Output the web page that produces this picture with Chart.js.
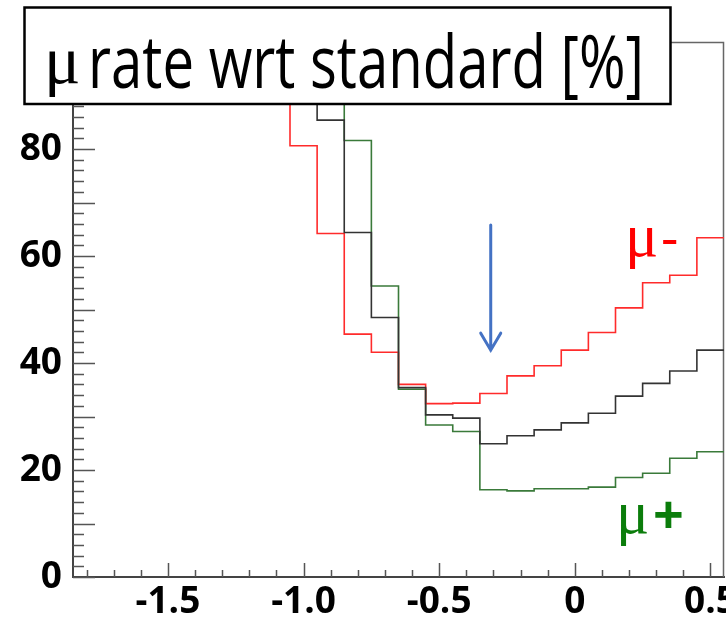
<!DOCTYPE html>
<html>
<head>
<meta charset="utf-8">
<script src="https://cdn.jsdelivr.net/npm/chart.js@4.4.0/dist/chart.umd.min.js"></script>
<style>
  html, body { margin: 0; padding: 0; background: #fff; }
</style>
</head>
<body>
<canvas id="chart" width="726" height="618"></canvas>
<script>
// bin edges of the histograms, the last edge closes the last bin
var binEdges = [-1.15, -1.05, -0.95, -0.85, -0.75, -0.65, -0.55, -0.45, -0.35,
                -0.25, -0.15, -0.05, 0.05, 0.15, 0.25, 0.35, 0.45, 0.55];
// bin contents (rate wrt standard, %)
var muMinus = [96, 80.6, 64.2, 45.4, 42.0, 36.0, 32.4, 32.5, 34.3, 37.6, 39.5, 42.4, 45.7, 50.3, 55.0, 56.4, 63.4];
var muAll   = [98, 95, 85.4, 64.4, 48.5, 35.4, 30.3, 29.7, 24.9, 26.4, 27.5, 28.8, 30.6, 33.8, 36.2, 38.5, 42.4];
var muPlus  = [99, 97, 95, 81.6, 54.4, 35.1, 28.4, 27.2, 16.3, 16.1, 16.5, 16.5, 16.8, 18.6, 19.4, 22.2, 23.4];

var xTickLabels = [-1.5, -1.0, -0.5, 0, 0.5];
var yTickLabels = [0, 20, 40, 60, 80];

// arrow marking the cut (x, from y, to y)
var arrowX = -0.31;
var arrowTop = 65.8;
var arrowTip = 42.4;

function histo(vals, color) {
    // each point holds the content of the bin starting at it,
    // the closing edge repeats the last bin
    var pts = binEdges.map(function (e, i) {
        return { x: e, y: vals[Math.min(i, vals.length - 1)] };
    });
    return {
        data: pts,
        borderColor: color,
        borderWidth: 1.6,
        stepped: 'before',
        pointRadius: 0,
        fill: false
    };
}

var frame = {
    id: 'frame',
    beforeDatasetsDraw: function (chart) {
        var c = chart.ctx, a = chart.chartArea;
        var xs = chart.scales.x, ys = chart.scales.y;
        c.save();
        c.strokeStyle = '#555';
        c.lineWidth = 1.5;
        c.beginPath();
        // y ticks, every 2, longer every 10
        for (var v = 0; v <= 100; v += 2) {
            var py = Math.round(ys.getPixelForValue(v)) + 0.5;
            var len = (v % 10 === 0) ? 22 : 11;
            c.moveTo(a.left, py);
            c.lineTo(a.left + len, py);
        }
        // x ticks, every 0.1, longer every 0.5
        for (var k = -18; k <= 5; k++) {
            var px = Math.round(xs.getPixelForValue(k / 10)) + 0.5;
            var l = (k % 5 === 0) ? 14 : 7;
            c.moveTo(px, a.bottom);
            c.lineTo(px, a.bottom - l);
        }
        c.stroke();
        // top and right frame
        c.strokeStyle = '#666';
        c.beginPath();
        c.moveTo(a.left, a.top + 0.5);
        c.lineTo(a.right - 0.5, a.top + 0.5);
        c.lineTo(a.right - 0.5, a.bottom);
        c.stroke();
        c.restore();
    },
    afterDraw: function (chart) {
        var c = chart.ctx;
        var xs = chart.scales.x, ys = chart.scales.y;
        c.save();
        // arrow
        var ax = xs.getPixelForValue(arrowX);
        var y0 = ys.getPixelForValue(arrowTop), y1 = ys.getPixelForValue(arrowTip);
        c.strokeStyle = '#4472c4';
        c.lineWidth = 3;
        c.lineCap = 'round';
        c.beginPath();
        c.moveTo(ax, y0);
        c.lineTo(ax, y1);
        c.moveTo(ax - 10, y1 - 17);
        c.lineTo(ax, y1);
        c.lineTo(ax + 10, y1 - 17);
        c.stroke();

        // mu labels
        c.textBaseline = 'alphabetic';
        c.fillStyle = '#ff0000';
        c.font = '62px "Liberation Serif"';
        c.fillText('\u03bc', 625, 256);
        c.font = '54px "Open Sans"';
        c.fillText('-', 661, 257);
        c.fillStyle = '#0b7d0b';
        c.font = '62px "Liberation Serif"';
        c.fillText('\u03bc', 616, 533);
        c.font = 'bold 54px "Open Sans"';
        c.textAlign = 'center';
        c.textBaseline = 'middle';
        c.fillText('+', 668.5, 519);

        // title box
        c.fillStyle = '#fff';
        c.fillRect(24, 7, 647, 97);
        c.strokeStyle = '#000';
        c.lineWidth = 2.5;
        c.strokeRect(24.5, 7.5, 646, 96.5);
        c.fillStyle = '#000';
        c.textAlign = 'left';
        c.textBaseline = 'alphabetic';
        c.font = '68px "Liberation Serif"';
        c.fillText('\u03bc', 44, 83);
        c.font = '74px "Open Sans"';
        var txt = 'rate wrt standard [%]';
        var w = c.measureText(txt).width;
        c.translate(88, 88);
        c.scale(556 / w, 1);
        c.fillText(txt, 0, 0);
        c.restore();
    }
};

var ctx = document.getElementById('chart').getContext('2d');
var chart = new Chart(ctx, {
    type: 'line',
    data: {
        datasets: [
            histo(muAll, '#333333'),
            histo(muMinus, '#ff2b2b'),
            histo(muPlus, '#3a7a3a')
        ]
    },
    options: {
        responsive: false,
        animation: false,
        layout: { padding: { left: 0, top: 42, right: 2, bottom: 0 } },
        plugins: { legend: { display: false }, tooltip: { enabled: false } },
        scales: {
            x: {
                type: 'linear',
                min: -1.85,
                max: 0.55,
                grid: { drawOnChartArea: false, drawTicks: false },
                border: { color: '#444', width: 2 },
                afterBuildTicks: function (s) {
                    s.ticks = xTickLabels.map(function (v) { return { value: v }; });
                },
                afterFit: function (s) {
                    s.height = 41;
                    s.paddingLeft = 0;
                    s.paddingRight = 0;
                },
                ticks: {
                    autoSkip: false,
                    maxRotation: 0,
                    padding: 3,
                    color: '#000',
                    font: { family: 'Open Sans', weight: 'bold', size: 37 },
                    callback: function (v) { return v === 0 ? '0' : v.toFixed(1); }
                }
            },
            y: {
                min: 0,
                max: 100,
                grid: { drawOnChartArea: false, drawTicks: false },
                border: { color: '#444', width: 2 },
                afterBuildTicks: function (s) {
                    s.ticks = yTickLabels.map(function (v) { return { value: v }; });
                },
                afterFit: function (s) {
                    s.width = 73;
                    s.paddingTop = 0;
                    s.paddingBottom = 0;
                },
                ticks: {
                    padding: 11,
                    color: '#000',
                    font: { family: 'Open Sans', weight: 'bold', size: 37 },
                    callback: function (v) { return String(v); }
                }
            }
        }
    },
    plugins: [frame]
});
</script>
</body>
</html>
